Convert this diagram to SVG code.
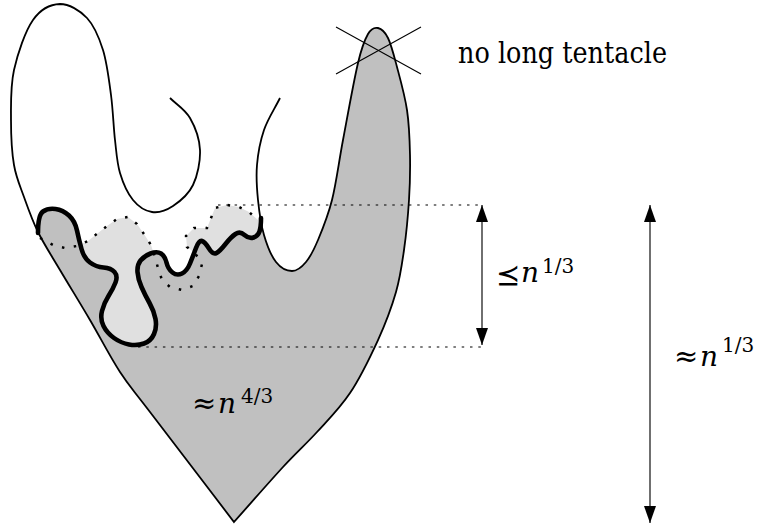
<svg xmlns="http://www.w3.org/2000/svg" width="764" height="525" viewBox="0 0 764 525">
<defs>
<style>
.outline{fill:none;stroke:#000;stroke-width:1.8;stroke-linejoin:miter}
.front{fill:none;stroke:#000;stroke-width:4.6;stroke-linejoin:round;stroke-linecap:round}
.dots{fill:none;stroke:#000;stroke-width:2.5;stroke-dasharray:2.5 9.5}
.guide{fill:none;stroke:#000;stroke-width:1.1;stroke-dasharray:2.5 5.8}
.arrow{fill:none;stroke:#222;stroke-width:1.3;marker-start:url(#ah);marker-end:url(#ah)}
.cross{stroke:#000;stroke-width:1.1}
.math{font-family:'DejaVu Serif','DejaVu Sans',serif;fill:#000}
.op{font-size:29px}
.var{font-size:28px;font-style:italic}
.exp{font-size:20px}
</style>
<marker id="ah" viewBox="0 0 17 12" refX="17" refY="6" markerWidth="17" markerHeight="12" markerUnits="userSpaceOnUse" orient="auto-start-reverse"><path d="M0,0 L17,6 L0,12 Z" fill="#000"/></marker>
</defs>

<g id="region">
<polygon id="light" fill="#e0e0e0" points="77,246 88,241 98,233 107,226 117,219 128,217 137,224 144,234 151,245 155,257 158,268 162,280 170,287 182,290 193,286 199,276 202,264 195,253 187,247 186,236 194,228 207,228 211,218 215,208 227,205 239,207 249,212 258,220 260,240 260,300 160,300 160,352 120,357 98,322 86,285 76,252"/>
<path id="dark" fill="#c0c0c0" d="M38,233 Q38,215 43,211.5 Q48,208 55.5,209 Q63,210 69,215.5 Q75,221 77,230.5 Q79,240 81.5,249 Q84,258 90,262.5 Q96,267 103.5,267.5 Q111,268 114.5,272 Q118,276 115.5,282.5 Q113,289 108.5,296 Q104,303 102,311 Q100,319 103.5,326 Q107,333 114,338 Q121,343 129,344.5 Q137,346 144,343.5 Q151,341 154,334 Q157,327 155.5,319 Q154,311 149.5,303 Q145,295 141.5,287 Q138,279 137.5,272 Q137,265 140.5,260.5 Q144,256 150.5,253.5 Q157,251 161,253.5 Q165,256 166.5,262.5 Q168,269 172.5,272.5 Q177,276 182,273.5 Q187,271 190,263.5 Q193,256 196,248 Q199,240 202,241 Q205,242 209,248.5 Q213,255 216.5,253 Q220,251 225.5,244 Q231,237 235.5,234 Q240,231 244.5,235 Q249,239 253.5,237.5 Q258,236 259.5,231.5 Q261,227 261,218 L264,235 C267,245.3 271.3,256 276,262 C280.7,268 287,271 292,271 C297,271 301.7,267.2 306,262 C310.3,256.8 313.7,250.3 318,240 C322.3,229.7 327.8,216.7 332,200 C336.2,183.3 338.7,162.8 343,140 C347.3,117.2 353.8,80.7 358,63 C362.2,45.3 364.7,39.8 368,34 C371.3,28.2 374.7,27.3 378,28 C381.3,28.7 384.8,31.5 388,38 C391.2,44.5 393.8,55 397,67 C400.2,79 404.8,95.3 407,110 C409.2,124.7 409.7,140 410,155 C410.3,170 410,184.2 409,200 C408,215.8 406.2,234.7 404,250 C401.8,265.3 400.3,277 396,292 C391.7,307 385.7,323.2 378,340 C370.3,356.8 360.2,377.7 350,393 C339.8,408.3 328.2,419.7 317,432 C305.8,444.3 296.8,452 283,467 C269.2,482 250.3,503.7 234,522 C206,485.3 169,437 150,412 C131,387 130,387.3 120,372 C110,356.7 100,337 90,320 C80,303 68.7,284.7 60,270 C51.3,255.3 44,244.2 38,232 Z"/>
</g>

<g id="boundary">
<path class="outline" d="M170,98 C176.7,104.7 185,109.3 190,118 C195,126.7 199.5,138.8 200,150 C200.5,161.2 197.5,175.7 193,185 C188.5,194.3 179.8,201.5 173,206 C166.2,210.5 158.7,213 152,212 C145.3,211 138.3,206.5 133,200 C127.7,193.5 123,183 120,173 C117,163 116.5,153 115,140 C113.5,127 113,110 111,95 C109,80 107,62.8 103,50 C99,37.2 94.2,25.7 87,18 C79.8,10.3 69,4 60,4 C51,4.3 40.7,9 33,20 C25.3,31 17.7,53.3 14,70 C10.3,86.7 11,104.2 11,120 C11,135.8 11.8,152.2 14,165 C16.2,177.8 20,185.8 24,197 C28,208.2 32,219.8 38,232 C44,244.2 51.3,255.3 60,270 C68.7,284.7 80,303 90,320 C100,337 110,356.7 120,372 C130,387.3 131,387 150,412 C169,437 206,485.3 234,522 C250.3,503.7 269.2,482 283,467 C296.8,452 305.8,444.3 317,432 C328.2,419.7 339.8,408.3 350,393 C360.2,377.7 370.3,356.8 378,340 C385.7,323.2 391.7,307 396,292 C400.3,277 401.8,265.3 404,250 C406.2,234.7 408,215.8 409,200 C410,184.2 410.3,170 410,155 C409.7,140 409.2,124.7 407,110 C404.8,95.3 400.2,79 397,67 C393.8,55 391.2,44.5 388,38 C384.8,31.5 381.3,28.7 378,28 C374.7,27.3 371.3,28.2 368,34 C364.7,39.8 362.2,45.3 358,63 C353.8,80.7 347.3,117.2 343,140 C338.7,162.8 336.2,183.3 332,200 C327.8,216.7 322.3,229.7 318,240 C313.7,250.3 310.3,256.8 306,262 C301.7,267.2 297,271 292,271 C287,271 280.7,268 276,262 C271.3,256 267,245.3 264,235 C261,224.7 259.2,211.7 258,200 C256.8,188.3 256,176.7 257,165 C258,153.3 260.2,141.2 264,130 C267.8,118.8 274.7,108.7 280,98"/>
</g>

<g id="front">
<path class="front" d="M38,233 Q38,215 43,211.5 Q48,208 55.5,209 Q63,210 69,215.5 Q75,221 77,230.5 Q79,240 81.5,249 Q84,258 90,262.5 Q96,267 103.5,267.5 Q111,268 114.5,272 Q118,276 115.5,282.5 Q113,289 108.5,296 Q104,303 102,311 Q100,319 103.5,326 Q107,333 114,338 Q121,343 129,344.5 Q137,346 144,343.5 Q151,341 154,334 Q157,327 155.5,319 Q154,311 149.5,303 Q145,295 141.5,287 Q138,279 137.5,272 Q137,265 140.5,260.5 Q144,256 150.5,253.5 Q157,251 161,253.5 Q165,256 166.5,262.5 Q168,269 172.5,272.5 Q177,276 182,273.5 Q187,271 190,263.5 Q193,256 196,248 Q199,240 202,241 Q205,242 209,248.5 Q213,255 216.5,253 Q220,251 225.5,244 Q231,237 235.5,234 Q240,231 244.5,235 Q249,239 253.5,237.5 Q258,236 259.5,231.5 Q261,227 261,218"/>
</g>

<g id="old-front">
<polyline class="dots" points="40,238 53,245 65,248 77,246 88,241 98,233 107,226 117,219 128,217 137,224 144,234 151,245 155,257 158,268 162,280 170,287 182,290 193,286 199,276 202,264 195,253 187,247 186,236 194,228 207,228 211,218 215,208 227,205 239,207 249,212 258,220"/>
</g>

<g id="tentacle-cross">
<line class="cross" x1="336" y1="27" x2="421" y2="74"/>
<line class="cross" x1="336" y1="74" x2="421" y2="27"/>
</g>

<g id="connectors">
<line class="guide" x1="218" y1="205" x2="482" y2="205"/>
<line class="guide" x1="138" y1="347" x2="482" y2="347"/>
<line class="arrow" x1="482" y1="205" x2="482" y2="345"/>
<line class="arrow" x1="650" y1="205" x2="650" y2="523"/>
</g>

<g id="labels">
<text font-family="'DejaVu Serif', serif" font-size="29" x="458" y="63" textLength="209" lengthAdjust="spacingAndGlyphs">no long tentacle</text>
<text id="label-short" class="math"><tspan class="op" x="496" y="285">&#x2AAF;</tspan><tspan class="var" x="521" y="282">n</tspan><tspan class="exp" x="542" y="273">1/3</tspan></text>
<text id="label-long" class="math"><tspan class="op" x="674" y="366">≈</tspan><tspan class="var" x="700" y="366">n</tspan><tspan class="exp" x="722" y="352">1/3</tspan></text>
<text id="label-area" class="math"><tspan class="op" x="192" y="413">≈</tspan><tspan class="var" x="218" y="413">n</tspan><tspan class="exp" x="241" y="403">4/3</tspan></text>
</g>
</svg>
